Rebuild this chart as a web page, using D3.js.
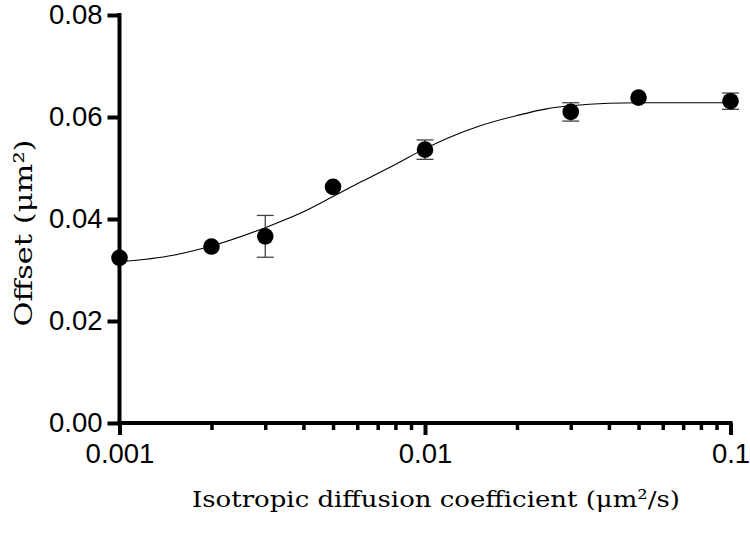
<!DOCTYPE html>
<html><head><meta charset="utf-8">
<script src="https://cdn.jsdelivr.net/npm/d3@7"></script>
<style>body{margin:0;background:#fff}svg{display:block}</style>
</head><body><svg id="c" width="750" height="534"></svg>
<script>
// Data
const dose = [0.001, 0.002, 0.003, 0.005, 0.01, 0.03, 0.05, 0.1];
const offset = [0.0324, 0.0346, 0.0366, 0.0463, 0.0536, 0.0610, 0.0638, 0.0631];
const errs = [0, 0, 0.0041, 0, 0.0019, 0.0018, 0, 0.0016];
const fitX = [0.001, 0.0015, 0.002, 0.003, 0.004, 0.005, 0.006, 0.007, 0.008, 0.01, 0.012, 0.015, 0.02, 0.025, 0.03, 0.04, 0.05, 0.07, 0.1];
const fitY = [0.0316, 0.0329, 0.0347, 0.0383, 0.0414, 0.0444, 0.0469, 0.0489, 0.0507, 0.0538, 0.0560, 0.0582, 0.0603, 0.0616, 0.0622, 0.0627, 0.0628, 0.0628, 0.0628];
const yTicks = [0, 0.02, 0.04, 0.06, 0.08];
const xMajor = [0.001, 0.01, 0.1];
const xMinor = [0.002,0.003,0.004,0.005,0.006,0.007,0.008,0.009,0.02,0.03,0.04,0.05,0.06,0.07,0.08,0.09];
const xMajorLabels = ["0.001", "0.01", "0.1"];

const svg = d3.select("#c");
const x = d3.scaleLog().domain([0.001, 0.1]).range([119.5, 730.5]);
const y = d3.scaleLinear().domain([0, 0.08]).range([423, 15]);

// fit curve
const line = d3.line().x(d => x(d[0])).y(d => y(d[1])).curve(d3.curveMonotoneX);
svg.append("path").datum(fitX.map((v,i)=>[v, fitY[i]]))
  .attr("d", line).attr("fill","none").attr("stroke","#000").attr("stroke-width",1.1);

// error bars
const eb = svg.append("g").attr("stroke","#444").attr("stroke-width",1.3);
dose.forEach((d,i)=>{
  if(!errs[i]) return;
  const cx = x(d), y1 = y(offset[i]+errs[i]), y2 = y(offset[i]-errs[i]);
  eb.append("line").attr("x1",cx).attr("x2",cx).attr("y1",y1).attr("y2",y2);
  eb.append("line").attr("x1",cx-8.5).attr("x2",cx+8.5).attr("y1",y1).attr("y2",y1);
  eb.append("line").attr("x1",cx-8.5).attr("x2",cx+8.5).attr("y1",y2).attr("y2",y2);
});

// points
svg.append("g").selectAll("circle").data(dose).join("circle")
  .attr("cx", d=>x(d)).attr("cy",(d,i)=>y(offset[i])).attr("r",8.3).attr("fill","#000");

// axes
const font = "'Liberation Sans', Arial, sans-serif";
const gy = svg.append("g").attr("transform","translate(119.5,0)")
  .call(d3.axisLeft(y).tickValues(yTicks).tickFormat(d3.format(".2f")).tickSize(12).tickSizeOuter(0).tickPadding(5));
gy.select(".domain").attr("stroke-width",4).attr("d","M0,13V423");
gy.selectAll(".tick line").attr("stroke-width",4);
gy.selectAll("text").attr("font-family",font).attr("font-size",27.5).attr("fill","#000");

const gxm = svg.append("g").attr("transform","translate(0,423)")
  .call(d3.axisBottom(x).tickValues(xMinor).tickFormat("").tickSize(7).tickSizeOuter(0));
gxm.select(".domain").remove();
gxm.selectAll(".tick line").attr("stroke-width",3.5);

const gx = svg.append("g").attr("transform","translate(0,423)")
  .call(d3.axisBottom(x).tickValues(xMajor).tickFormat((d,i)=>xMajorLabels[i]).tickSize(12).tickSizeOuter(0).tickPadding(8));
gx.select(".domain").attr("stroke-width",4).attr("d","M117.5,0H732.5");
gx.selectAll(".tick line").attr("stroke-width",4);
gx.selectAll("text").attr("font-family",font).attr("font-size",27.5).attr("fill","#000");

// titles
svg.append("text").attr("x",436).attr("y",507).attr("text-anchor","middle")
  .attr("font-family","'DejaVu Serif', serif").attr("font-size",23).attr("fill","#000")
  .attr("textLength",488).attr("lengthAdjust","spacingAndGlyphs")
  .text("Isotropic diffusion coefficient (μm²/s)");
svg.append("text").attr("transform","translate(32,233) rotate(-90)").attr("text-anchor","middle")
  .attr("font-family","'DejaVu Serif', serif").attr("font-size",25).attr("fill","#000")
  .attr("textLength",187).attr("lengthAdjust","spacingAndGlyphs")
  .text("Offset (μm²)");
</script></body></html>
